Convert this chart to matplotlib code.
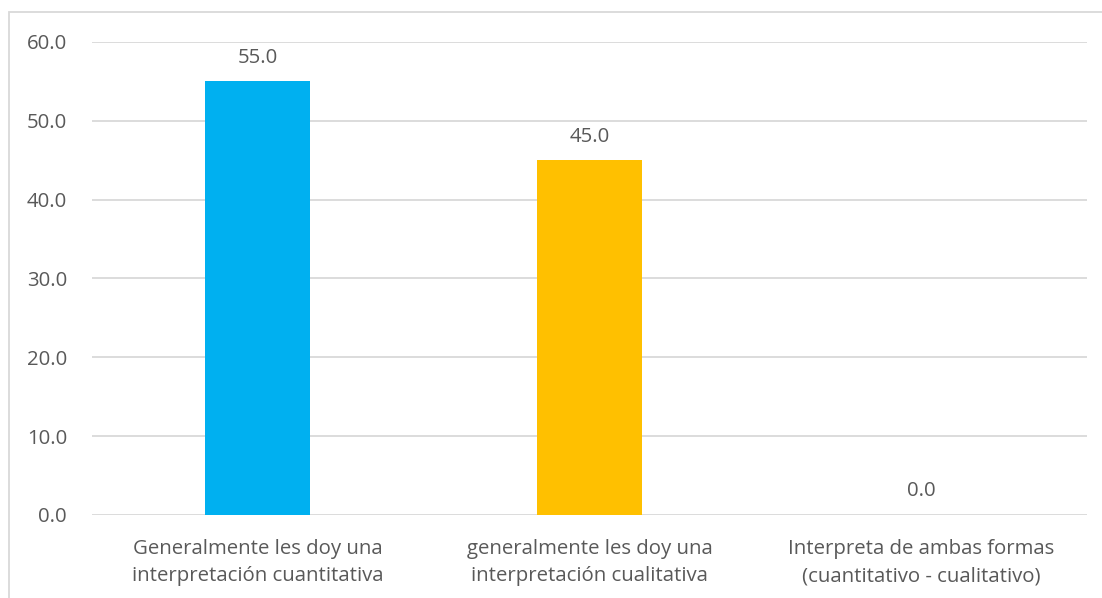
import matplotlib.pyplot as plt
from matplotlib.patches import Rectangle
from matplotlib.ticker import FormatStrFormatter

# Datos del gráfico
categorias = [
    "Generalmente les doy una\ninterpretación cuantitativa",
    "generalmente les doy una\ninterpretación cualitativa",
    "Interpreta de ambas formas\n(cuantitativo - cualitativo)",
]
porcentajes = [55.0, 45.0, 0.0]
colores = ["#00B0F0", "#FFC000", "#A5A5A5"]
yticks = [0, 10, 20, 30, 40, 50, 60]

plt.rcParams['font.family'] = ['Open Sans', 'DejaVu Sans']
texto = "#595959"
rejilla = "#D9D9D9"
fs = 14.7

fig = plt.figure(figsize=(11.02, 5.98), dpi=100)
ax = fig.add_axes([0.0835, 0.1388, 0.9029, 0.791])

x = range(len(categorias))
barras = ax.bar(x, porcentajes, width=0.317, color=colores, zorder=3)

# Etiquetas de valor sobre las barras
for xi, v in zip(x, porcentajes):
    ax.annotate(f"{v:.1f}", (xi, v), xytext=(0, 17), textcoords="offset points",
                ha="center", va="center", fontsize=fs, color=texto)

ax.set_xlim(-0.5, len(categorias) - 0.5)
ax.set_ylim(0, 60)
ax.set_yticks(yticks)
ax.yaxis.set_major_formatter(FormatStrFormatter('%.1f'))
ax.set_xticks(list(x))
ax.set_xticklabels(categorias, fontsize=fs, color=texto, linespacing=1.5)
ax.tick_params(axis='y', labelsize=fs, labelcolor=texto, length=0, pad=18)
ax.tick_params(axis='x', length=0, pad=17)

ax.grid(axis='y', color=rejilla, linewidth=1.3, zorder=0)
for s in ax.spines.values():
    s.set_visible(False)

# Borde del área del gráfico
fig.patches.append(Rectangle((9 / 1102, -0.1), 1.2, 1.1 - 12 / 598, transform=fig.transFigure,
                             fill=False, edgecolor=rejilla, linewidth=1.3))

fig.savefig("out.png", dpi=100)
